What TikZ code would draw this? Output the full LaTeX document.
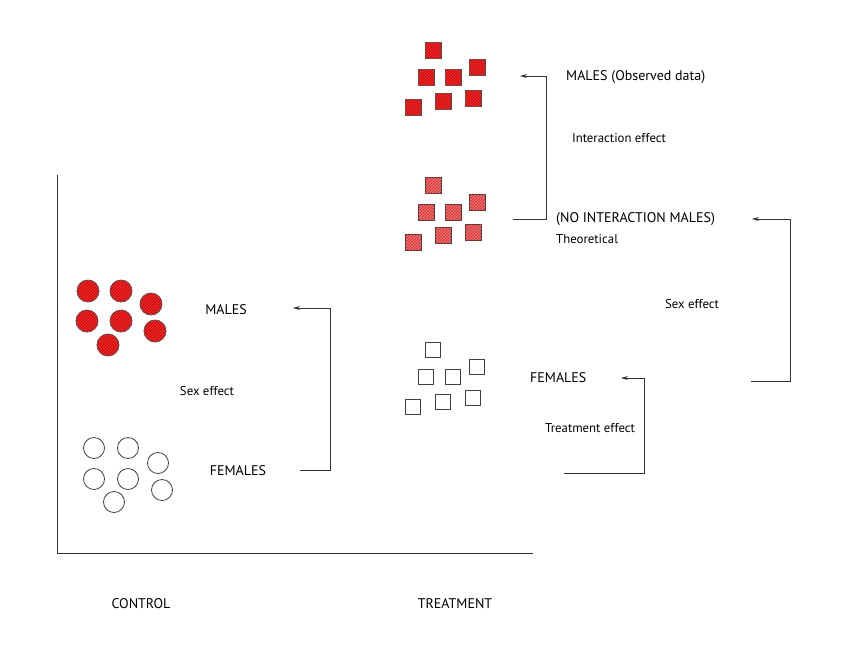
\documentclass[tikz,border=0pt]{standalone}
\usepackage{fontspec}
\setmainfont{PT Sans}
\usetikzlibrary{patterns,arrows.meta}
\definecolor{obsred}{RGB}{215,10,10}
\definecolor{obsstripe}{RGB}{240,60,60}
\definecolor{lightred}{RGB}{240,110,110}
\definecolor{lightstripe}{RGB}{200,40,40}
\tikzset{
  redcirc/.style={circle,draw=black!70,line width=0.8pt,fill=obsred,minimum size=22pt,inner sep=0pt,
     postaction={pattern=north east lines,pattern color=obsstripe}},
  whitecirc/.style={circle,draw=black!75,line width=0.8pt,fill=white,minimum size=21pt,inner sep=0pt},
  redsq/.style={rectangle,draw=black!70,line width=0.8pt,fill=obsred,minimum size=16pt,inner sep=0pt,
     postaction={pattern=north east lines,pattern color=obsstripe}},
  pinksq/.style={rectangle,draw=black!75,line width=0.8pt,fill=lightred,minimum size=16pt,inner sep=0pt,
     postaction={pattern=north east lines,pattern color=lightstripe}},
  whitesq/.style={rectangle,draw=black!75,line width=0.8pt,fill=white,minimum size=15pt,inner sep=0pt},
  bigtxt/.style={font=\fontsize{14}{16}\selectfont,inner sep=0pt},
  smalltxt/.style={font=\fontsize{12.8}{15}\selectfont,inner sep=0pt},
  conn/.style={draw=black!80,line width=0.8pt,-{Stealth[length=7pt,width=4pt]}},
  axis/.style={draw=black!80,line width=0.8pt}
}
\begin{document}
\begin{tikzpicture}[x=1pt,y=-1pt]
\useasboundingbox (0,0) rectangle (861,657);
\fill[white] (0,0) rectangle (861,657);
% axes
\coordinate (axtop) at (57,175);
\coordinate (axorig) at (57,553);
\coordinate (axright) at (533,553);
\draw[axis] (axtop) -- (axorig) -- (axright);
% control males
\foreach \n/\x/\y in {1/88/291,2/121/291,3/151/304,4/87/321,5/121/321,6/155/331,7/108/345}
  \node[redcirc] (cm\n) at (\x,\y) {};
% control females
\foreach \n/\x/\y in {1/94/448,2/128/448,3/158/463,4/94/479,5/128/479,6/162/490,7/114/502}
  \node[whitecirc] (cf\n) at (\x,\y) {};
% treatment observed males
\foreach \n/\x/\y in {1/433/50,2/477/67,3/426/77,4/453/77,5/473/98,6/443/101,7/413/107}
  \node[redsq] (tm\n) at (\x,\y) {};
% theoretical males
\foreach \n/\x/\y in {1/433/185,2/477/202,3/426/212,4/453/212,5/473/232,6/443/235,7/413/242}
  \node[pinksq] (th\n) at (\x,\y) {};
% treatment females
\foreach \n/\x/\y in {1/433/350,2/477/367,3/426/377,4/453/377,5/473/398,6/443/402,7/413/407}
  \node[whitesq] (tf\n) at (\x,\y) {};
% labels
\node[bigtxt] (cmales) at (226,310) {MALES};
\node[bigtxt] (cfemales) at (238,471) {FEMALES};
\node[smalltxt] (csex) at (207,391) {Sex effect};
\node[bigtxt,anchor=west] (obs) at (566,77) {MALES (Observed data)};
\node[smalltxt] (inter) at (619,138) {Interaction effect};
\node[bigtxt,anchor=west] (nointer) at (556,219) {(NO INTERACTION MALES)};
\node[smalltxt,anchor=west] (theo) at (556,239) {Theoretical};
\node[smalltxt] (tsex) at (692,304) {Sex effect};
\node[bigtxt,anchor=west] (tfemales) at (530,378) {FEMALES};
\node[smalltxt] (treat) at (590,428) {Treatment effect};
\node[bigtxt] (control) at (141,604) {CONTROL};
\node[bigtxt] (treatment) at (455,604) {TREATMENT};
% connectors
\coordinate (a1s) at (300,470);
\coordinate (a1e) at (293,308);
\draw[conn] (a1s) -- (330,470) |- (a1e);
\coordinate (a2s) at (513,219);
\coordinate (a2e) at (520,76);
\draw[conn] (a2s) -- (546,219) |- (a2e);
\coordinate (a3s) at (751,381);
\coordinate (a3e) at (752,219);
\draw[conn] (a3s) -- (790,381) |- (a3e);
\coordinate (a4s) at (564,473);
\coordinate (a4e) at (621,378);
\draw[conn] (a4s) -- (644,473) |- (a4e);
\end{tikzpicture}
\end{document}
